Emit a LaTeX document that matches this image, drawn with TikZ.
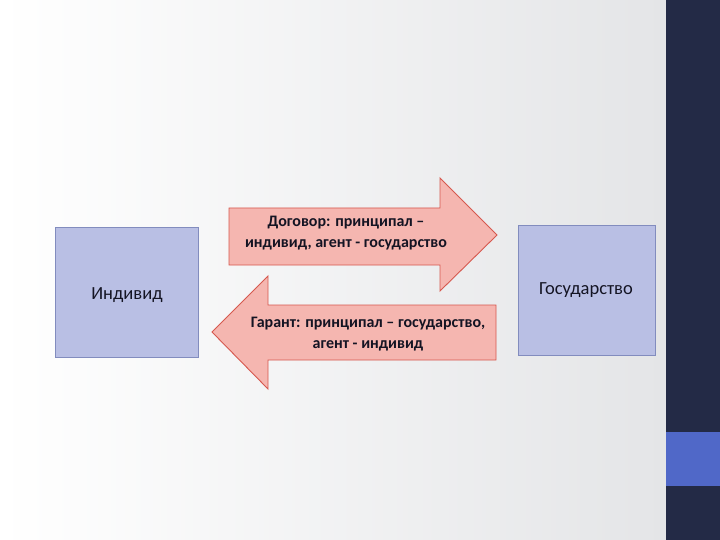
\documentclass[tikz,border=0pt]{standalone}
\usepackage{fontspec}
\setmainfont{Carlito}
\definecolor{boxfill}{RGB}{185,191,228}
\definecolor{boxline}{RGB}{130,140,190}
\definecolor{arrfill}{RGB}{245,182,176}
\definecolor{arrline}{RGB}{214,88,78}
\definecolor{navy}{RGB}{35,42,70}
\definecolor{blueblk}{RGB}{80,104,200}
\definecolor{txt}{RGB}{20,20,35}
\definecolor{bggray}{RGB}{228,229,231}
\begin{document}
\begin{tikzpicture}[x=1pt,y=-1pt,
  agentbox/.style={draw=boxline, line width=0.8pt, fill=boxfill},
  arrowshape/.style={draw=arrline, line width=0.9pt, fill=arrfill, line join=miter},
  boxlabel/.style={font=\fontsize{18.5}{22}\selectfont, text=txt, inner sep=0pt},
  arrlabel/.style={font=\fontsize{16}{21}\selectfont\bfseries, text=txt, align=center, inner sep=0pt}]
\useasboundingbox (0,0) rectangle (720,540);
% background
\shade[left color=white, right color=bggray] (0,0) rectangle (666,540);
% right bar
\fill[navy] (666,0) rectangle (720,540);
\fill[blueblk] (666,432) rectangle (720,486);
% boxes
\draw[agentbox] (55,227) rectangle (198,357);
\draw[agentbox] (518,225) rectangle (655,355);
\node[boxlabel] (ind) at (127,295) {Индивид};
\node[boxlabel] (gos) at (586,290) {Государство};
% top arrow (right)
\draw[arrowshape] (229,208) -- (440,208) -- (440,178) -- (497,235) -- (440,291) -- (440,265) -- (229,265) -- cycle;
\node[arrlabel] (dog) at (346,233) {Договор: принципал –\\индивид, агент - государство};
% bottom arrow (left)
\draw[arrowshape] (496,305) -- (268,305) -- (268,276) -- (212,332) -- (268,389) -- (268,360) -- (496,360) -- cycle;
\node[arrlabel] (gar) at (368,334) {Гарант: принципал – государство,\\агент - индивид};
\end{tikzpicture}
\end{document}
